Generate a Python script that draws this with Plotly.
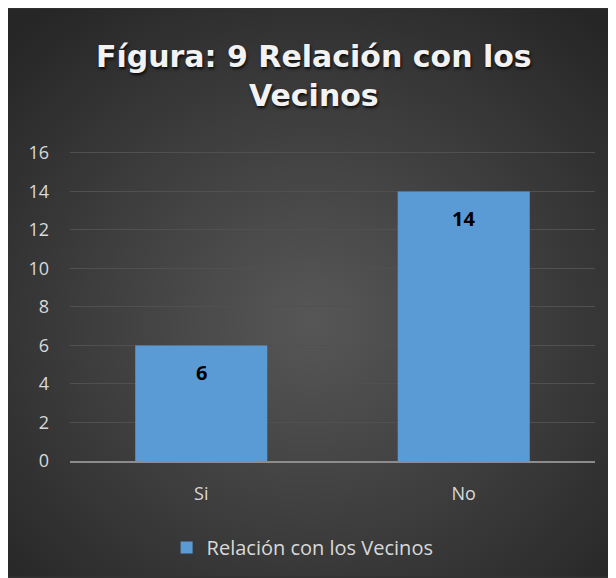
import base64
import plotly.graph_objects as go

# 数据
categorias = ["Si", "No"]
valores = [6, 14]
serie_nombre = "Relación con los Vecinos"
titulo = "Fígura: 9 Relación con los<br>Vecinos"
y_ticks = [0, 2, 4, 6, 8, 10, 12, 14, 16]

FONT = "Open Sans"
TICK_COLOR = "#d9d9d9"
BAR_COLOR = "#5b9bd5"

# la página tiene 8px de margen, así que la figura es 608x570
FIG_W, FIG_H = 608, 570
L, R, T, B = 62, 21, 143, 116
W, H = FIG_W - L - R, FIG_H - T - B

# fondo con gradiente radial (estilo Excel)
svg = (
    f'<svg xmlns="http://www.w3.org/2000/svg" width="{FIG_W}" height="{FIG_H}" preserveAspectRatio="none">'
    '<defs><radialGradient id="g" cx="50%" cy="55%" r="70%">'
    '<stop offset="0" stop-color="#575757"/><stop offset="1" stop-color="#262626"/>'
    f'</radialGradient></defs><rect width="{FIG_W}" height="{FIG_H}" fill="url(#g)"/></svg>'
)
bg_src = "data:image/svg+xml;base64," + base64.b64encode(svg.encode()).decode()

fig = go.Figure()
fig.add_trace(go.Bar(
    x=categorias, y=valores, name=serie_nombre,
    marker=dict(color=BAR_COLOR, line=dict(width=0)),
    showlegend=True,
))

# etiquetas de datos dentro de la barra, cerca del extremo
for c, v in zip(categorias, valores):
    fig.add_annotation(x=c, y=v, text=f"<b>{v}</b>", showarrow=False,
                       yshift=-27, font=dict(family=FONT, size=20, color="black"))

fig.add_layout_image(
    source=bg_src, xref="paper", yref="paper",
    x=-L / W, y=(H + T) / H, sizex=FIG_W / W, sizey=FIG_H / H,
    xanchor="left", yanchor="top", sizing="stretch", layer="below",
)

fig.update_layout(
    width=FIG_W, height=FIG_H,
    margin=dict(l=L, r=R, t=T, b=B),
    paper_bgcolor="#333333", plot_bgcolor="rgba(0,0,0,0)",
    bargap=0.497,
    title=dict(text=f"<b>{titulo}</b>", xref="container", x=0.503, xanchor="center",
               yref="container", y=0.896, yanchor="top",
               font=dict(family="DejaVu Sans", size=30, color="#f2f2f2",
                         shadow="1px 2px 3px rgba(0,0,0,0.8)")),
    font=dict(family=FONT, color=TICK_COLOR, size=18),
    legend=dict(orientation="h", x=0.184, xanchor="left", y=-0.275, yanchor="middle",
                font=dict(family=FONT, size=20, color=TICK_COLOR),
                bgcolor="rgba(0,0,0,0)", itemwidth=30),
    yaxis=dict(range=[0, 16.1], tickvals=y_ticks, showgrid=True, gridcolor="#505050",
               gridwidth=1, zeroline=False, showline=False, ticks="",
               tickfont=dict(size=18, color=TICK_COLOR), ticklabelstandoff=20),
    xaxis=dict(showline=True, linecolor="#8c8c8c", linewidth=2, ticks="",
               tickfont=dict(size=18, color=TICK_COLOR), ticklabelstandoff=15),
)

fig.write_html("out.html")
